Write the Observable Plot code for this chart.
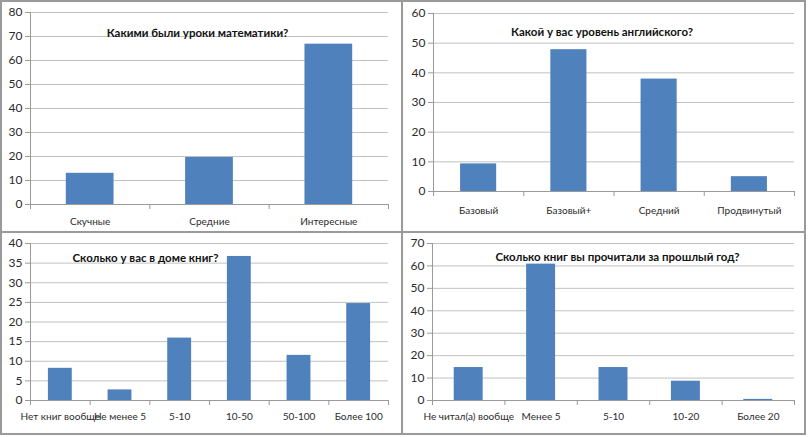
<!DOCTYPE html>
<html>
<head>
<meta charset="utf-8">
<script src="https://cdn.jsdelivr.net/npm/d3@7"></script>
<script src="https://cdn.jsdelivr.net/npm/@observablehq/plot@0.6"></script>
<style>
  html, body { margin: 0; padding: 0; background: #fff; }
  #root { position: relative; width: 809px; height: 437px; overflow: hidden; font-family: Lato, "Open Sans", sans-serif; }
  .panel { position: absolute; border: 2px solid #9a9a9a; box-sizing: border-box; }
  .chart { position: absolute; }
</style>
</head>
<body>
<div id="root"></div>
<script>
// ---- data ----
const mathTitle = "Какими были уроки математики?";
const mathCats = ["Скучные", "Средние", "Интересные"];
const mathVals = [13, 19.6, 66.8];

const engTitle = "Какой у вас уровень английского?";
const engCats = ["Базовый", "Базовый+", "Средний", "Продвинутый"];
const engVals = [9.3, 47.8, 37.9, 5];

const homeTitle = "Сколько у вас в доме книг?";
const homeCats = ["Нет книг вообще", "Не менее 5", "5-10", "10-50", "50-100", "Более 100"];
const homeVals = [8.2, 2.7, 15.9, 36.7, 11.5, 24.7];

const readTitle = "Сколько книг вы прочитали за прошлый год?";
const readCats = ["Не читал(а) вообще", "Менее 5", "5-10", "10-20", "Более 20"];
const readVals = [14.7, 60.8, 14.7, 8.6, 0.5];

const yTicks1 = [0, 10, 20, 30, 40, 50, 60, 70, 80];
const yTicks2 = [0, 10, 20, 30, 40, 50, 60];
const yTicks3 = [0, 5, 10, 15, 20, 25, 30, 35, 40];
const yTicks4 = [0, 10, 20, 30, 40, 50, 60, 70];

// ---- layout ----
const root = document.getElementById("root");
const BAR = "#4F81BD", GRID = "#c2c2c2", AXIS = "#9a9a9a", TEXT = "#2b2b2b";

function panel(box) {
  const p = document.createElement("div");
  p.className = "panel";
  Object.assign(p.style, {left: box[0] + "px", top: box[1] + "px", width: box[2] + "px", height: box[3] + "px"});
  root.appendChild(p);
}

function chart(cfg) {
  const n = cfg.cats.length;
  const data = cfg.cats.map((c, i) => ({c, i, v: cfg.vals[i]}));
  const ymax = cfg.yTicks[cfg.yTicks.length - 1];
  const svg = Plot.plot({
    width: cfg.w, height: cfg.h,
    marginLeft: cfg.m[0], marginRight: cfg.m[1], marginTop: cfg.m[2], marginBottom: cfg.m[3],
    style: {fontFamily: "Lato, 'Open Sans', sans-serif", fontSize: "11px", color: TEXT, background: "transparent"},
    x: {type: "linear", domain: [0, n]},
    y: {domain: [0, ymax]},
    marks: [
      Plot.ruleY(cfg.yTicks.slice(1), {stroke: GRID, strokeWidth: 1}),
      Plot.rectY(data, {x1: d => d.i + 0.3, x2: d => d.i + 0.7, y1: 0, y2: "v", fill: BAR}),
      Plot.ruleX([0], {stroke: AXIS}),
      Plot.ruleY([0], {stroke: AXIS}),
      Plot.axisY({ticks: cfg.yTicks, tickSize: 5, tickPadding: 3, stroke: AXIS, fill: TEXT, fontSize: 12, label: null}),
      Plot.axisX({ticks: d3.range(0, n + 1), tickSize: 5, tickFormat: () => "", stroke: AXIS, label: null}),
      Plot.axisX({ticks: d3.range(n).map(i => i + 0.5), tickSize: 0, tickPadding: cfg.lp, tickFormat: t => cfg.cats[Math.floor(t)], fill: TEXT, fontSize: 10, label: null}),
      Plot.text([cfg.title], {frameAnchor: "top", dx: cfg.tdx, dy: cfg.tdy, fontWeight: "bold", fontSize: 11.5, fill: "#111"})
    ]
  });
  svg.classList.add("chart");
  Object.assign(svg.style, {left: cfg.x + "px", top: cfg.y + "px"});
  root.appendChild(svg);
}

panel([0, 0, 403, 233]);
panel([401, 0, 405, 233]);
panel([0, 231, 403, 204]);
panel([401, 231, 405, 204]);

chart({x: 2, y: 1, w: 398, h: 230, m: [28, 12, 11, 27], cats: mathCats, vals: mathVals, yTicks: yTicks1, title: mathTitle, tdx: -12, tdy: 16, lp: 13});
chart({x: 402, y: 1, w: 401, h: 230, m: [31, 9, 12, 40], cats: engCats, vals: engVals, yTicks: yTicks2, title: engTitle, tdx: -12, tdy: 14, lp: 15});
chart({x: 2, y: 233, w: 398, h: 199, m: [28, 12, 10, 32], cats: homeCats, vals: homeVals, yTicks: yTicks3, title: homeTitle, tdx: -64, tdy: 10, lp: 12});
chart({x: 402, y: 233, w: 401, h: 199, m: [30, 9, 10, 32], cats: readCats, vals: readVals, yTicks: yTicks4, title: readTitle, tdx: 4, tdy: 9, lp: 12});
</script>
</body>
</html>
